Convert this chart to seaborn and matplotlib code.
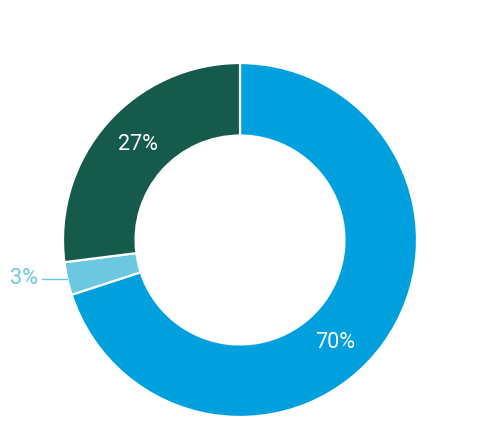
import numpy as np
import matplotlib.pyplot as plt
import seaborn as sns

sns.set_style('white')
plt.rcParams['font.family'] = ['Roboto', 'DejaVu Sans']

labels = ['70%', '3%', '27%']
values = [70, 3, 27]
colors = ['#00A0DF', '#6CC7E0', '#155A4B']

fig = plt.figure(figsize=(4.8, 4.24), dpi=100)
# square axes so the ring sits like in the reference
ax = fig.add_axes([63 / 480, 7 / 424, 354 / 480, 354 / 424])
wedges, _ = ax.pie(values, colors=colors, startangle=90, counterclock=False,
                   radius=1, wedgeprops=dict(width=0.41, edgecolor='white', linewidth=1.6))
ax.set_xlim(-1, 1)
ax.set_ylim(-1, 1)
ax.set_aspect('equal')
ax.axis('off')

# inner labels, white on the ring (small nudges to match the source)
label_angle = {'70%': -47, '27%': 137}
mid_r = 0.79
for w, lab in zip(wedges, labels):
    ang = np.deg2rad(label_angle.get(lab, (w.theta1 + w.theta2) / 2))
    if lab == '3%':
        x, y = np.cos(ang), np.sin(ang)
        ax.plot([x, x - 0.14], [y, y], color=colors[1], lw=1, clip_on=False)
        ax.text(x - 0.165, y, lab, color=colors[1], fontsize=15.5,
                ha='right', va='center', clip_on=False)
    else:
        ax.text(mid_r * np.cos(ang), mid_r * np.sin(ang), lab, color='white',
                fontsize=15.5, ha='center', va='center')

fig.savefig('out.png', dpi=100)
